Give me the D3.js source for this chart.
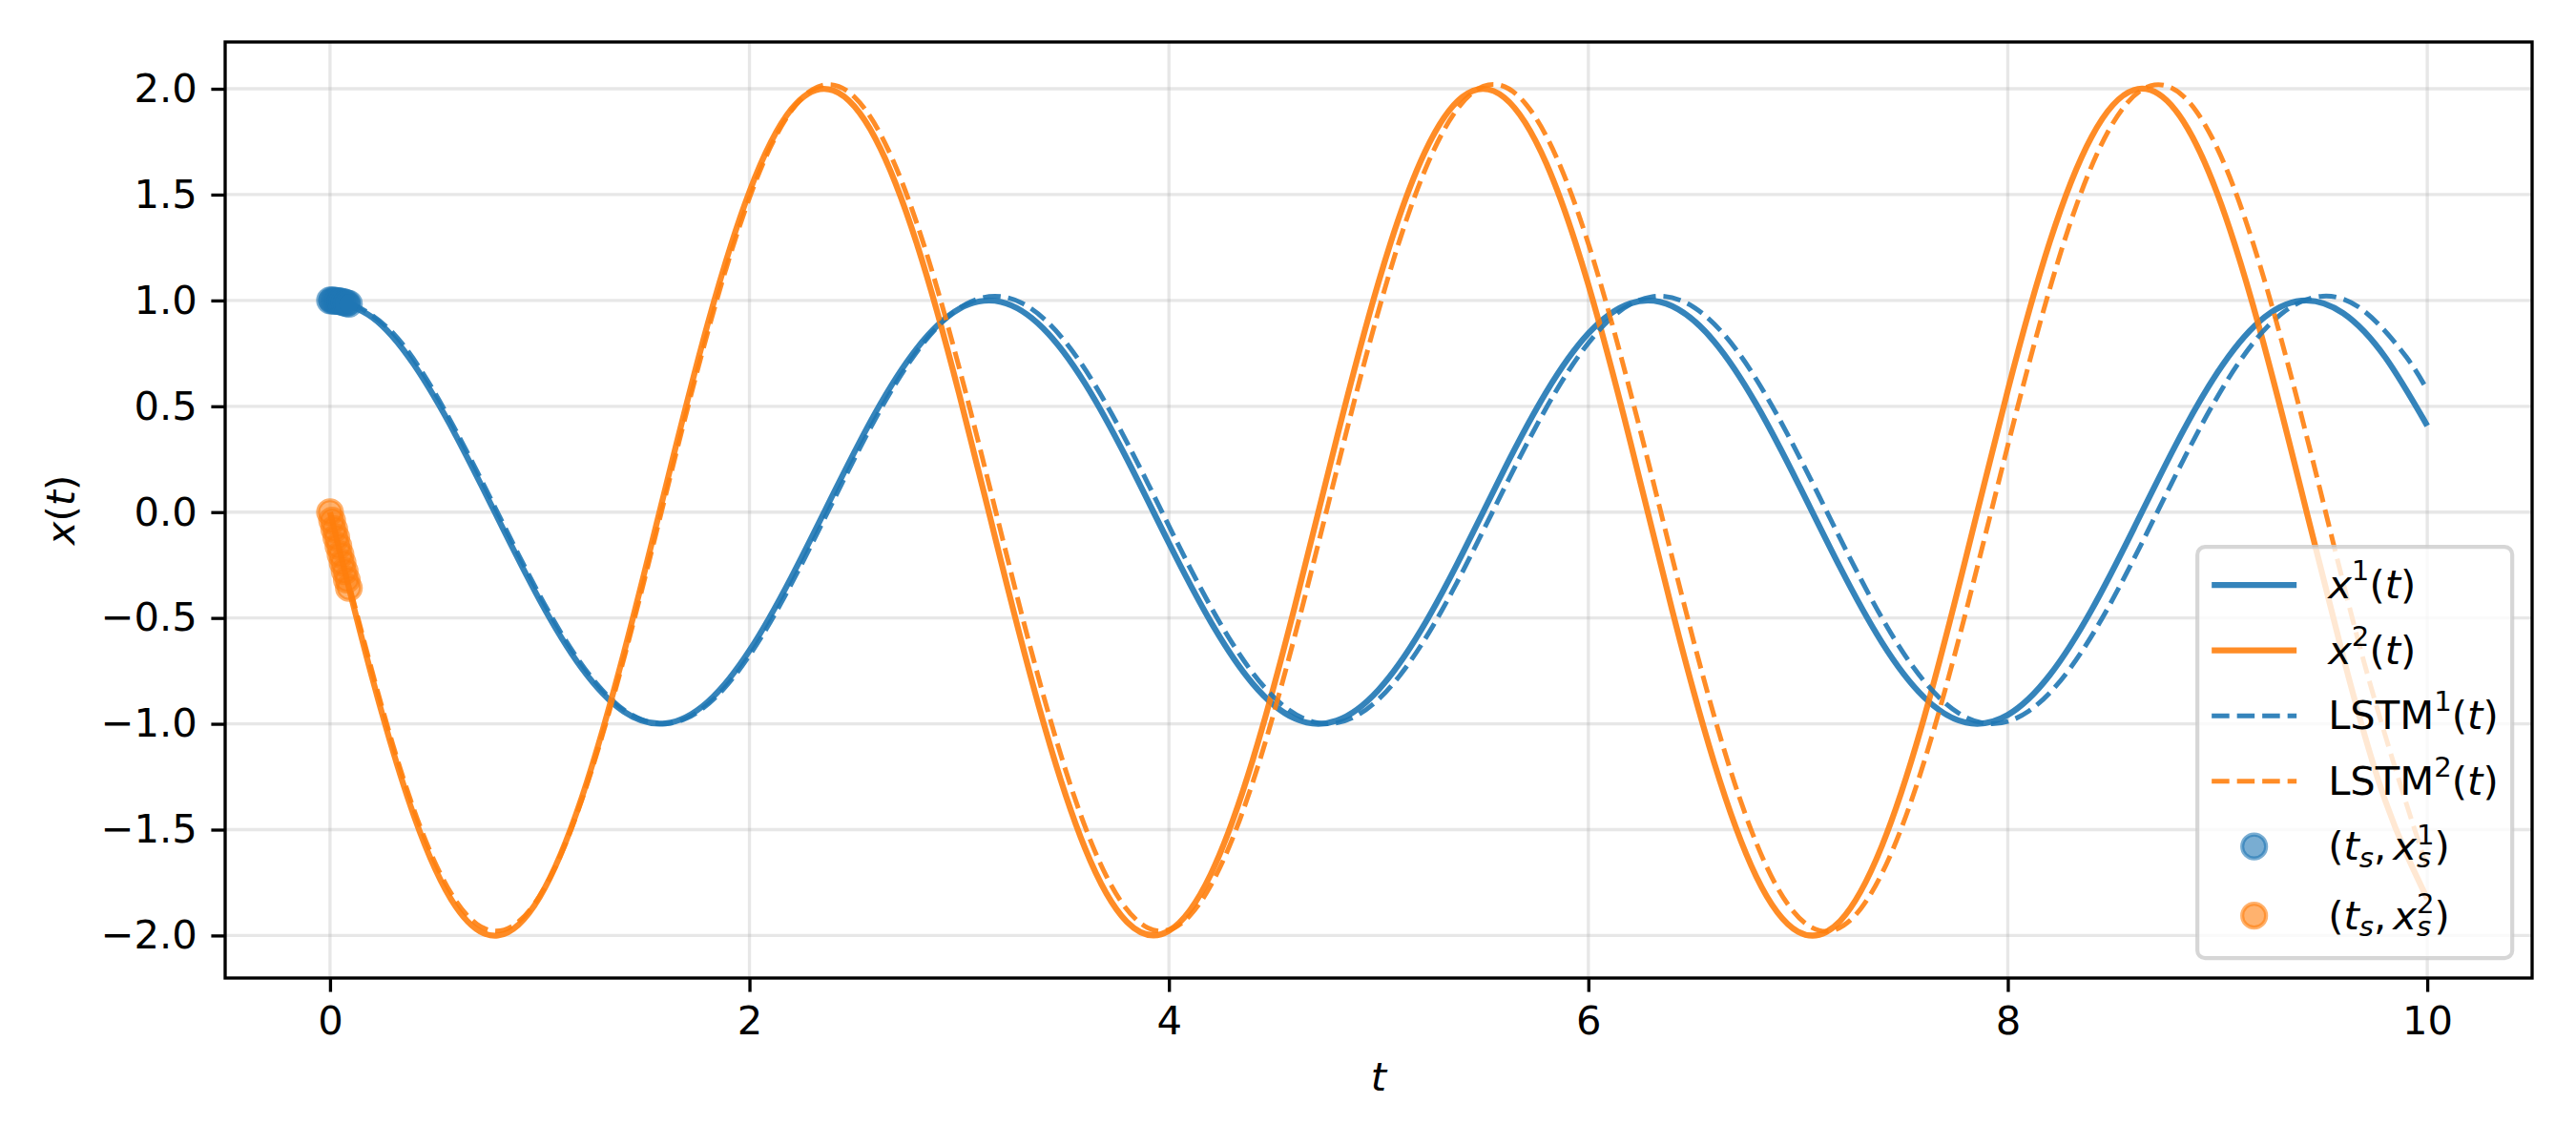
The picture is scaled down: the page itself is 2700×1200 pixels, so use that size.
<!DOCTYPE html>
<html>
<head>
<meta charset="utf-8">
<script src="https://cdn.jsdelivr.net/npm/d3@7"></script>
<style>
   html, body { margin: 0; padding: 0; background: #fff; }
   svg { display: block; font-family: 'DejaVu Sans', sans-serif; }
</style>
</head>
<body>
<div id="chart"></div>
<script>
// true trajectories, read every 0.2 along t
const tTrue = [0.0, 0.2, 0.4, 0.6, 0.8, 1.0, 1.2, 1.4, 1.6, 1.8, 2.0, 2.2, 2.4, 2.6, 2.8, 3.0, 3.2,
   3.4, 3.6, 3.8, 4.0, 4.2, 4.4, 4.6, 4.8, 5.0, 5.2, 5.4, 5.6, 5.8, 6.0, 6.2, 6.4, 6.6, 6.8, 7.0,
   7.2, 7.4, 7.6, 7.8, 8.0, 8.2, 8.4, 8.6, 8.8, 9.0, 9.2, 9.4, 9.6, 9.8, 10.0];
const x1True = [1.000, 0.921, 0.697, 0.362, -0.029, -0.416, -0.737, -0.942, -0.998, -0.897, -0.654,
   -0.307, 0.087, 0.469, 0.776, 0.960, 0.993, 0.869, 0.608, 0.251, -0.146, -0.519, -0.811, -0.975,
   -0.985, -0.839, -0.561, -0.195, 0.203, 0.568, 0.844, 0.986, 0.973, 0.806, 0.511, 0.136, -0.260,
   -0.616, -0.874, -0.994, -0.958, -0.770, -0.461, -0.079, 0.316, 0.660, 0.901, 0.999, 0.939,
   0.731, 0.408];
const x2True = [0.000, -0.778, -1.434, -1.864, -2.000, -1.818, -1.350, -0.670, 0.116, 0.886, 1.514,
   1.904, 1.992, 1.766, 1.262, 0.558, -0.234, -0.988, -1.588, -1.936, -1.978, -1.710, -1.170,
   -0.446, 0.348, 1.088, 1.656, 1.962, 1.958, 1.646, 1.074, 0.332, -0.464, -1.184, -1.720, -1.982,
   -1.932, -1.576, -0.974, -0.216, 0.576, 1.276, 1.774, 1.994, 1.898, 1.502, 0.868, 0.100, -0.686,
   -1.364, -1.826];

// LSTM prediction, starts after the sample window
const tLstm = [0.1, 0.3, 0.5, 0.7, 0.9, 1.1, 1.3, 1.5, 1.7, 1.9, 2.1, 2.3, 2.5, 2.7, 2.9, 3.1, 3.3,
   3.5, 3.7, 3.9, 4.1, 4.3, 4.5, 4.7, 4.9, 5.1, 5.3, 5.5, 5.7, 5.9, 6.1, 6.3, 6.5, 6.7, 6.9, 7.1,
   7.3, 7.5, 7.7, 7.9, 8.1, 8.3, 8.5, 8.7, 8.9, 9.1, 9.3, 9.5, 9.7, 9.9, 10.0];
const x1Lstm = [0.990, 0.846, 0.563, 0.194, -0.203, -0.568, -0.843, -0.986, -0.974, -0.809, -0.518,
   -0.145, 0.252, 0.612, 0.879, 1.010, 0.987, 0.812, 0.512, 0.135, -0.262, -0.616, -0.874, -0.994,
   -0.959, -0.773, -0.467, -0.085, 0.310, 0.659, 0.908, 1.017, 0.970, 0.774, 0.459, 0.076, -0.318,
   -0.662, -0.901, -0.999, -0.940, -0.734, -0.412, -0.025, 0.367, 0.704, 0.933, 1.020, 0.949,
   0.733, 0.575];
const x2Lstm = [-0.374, -1.100, -1.654, -1.946, -1.934, -1.620, -1.050, -0.316, 0.472, 1.188, 1.724,
   1.996, 1.962, 1.626, 1.040, 0.298, -0.490, -1.196, -1.716, -1.964, -1.906, -1.550, -0.950,
   -0.198, 0.586, 1.284, 1.784, 2.012, 1.930, 1.552, 0.936, 0.180, -0.602, -1.288, -1.772, -1.976,
   -1.872, -1.474, -0.844, -0.080, 0.698, 1.372, 1.836, 2.018, 1.892, 1.474, 0.830, 0.062, -0.714,
   -1.376, -1.680];

// observed samples (t_s, x_s)
const tSample = [0.00, 0.01, 0.02, 0.03, 0.04, 0.05, 0.06, 0.07, 0.08, 0.09];
const x1Sample = [1.000, 1.000, 0.999, 0.998, 0.997, 0.995, 0.993, 0.990, 0.987, 0.984];
const x2Sample = [0.000, -0.040, -0.080, -0.120, -0.160, -0.200, -0.239, -0.279, -0.319, -0.358];

const xTicks = [0, 2, 4, 6, 8, 10];
const yTicks = [-2.0, -1.5, -1.0, -0.5, 0.0, 0.5, 1.0, 1.5, 2.0];

const BLUE = '#1f77b4';
const ORANGE = '#ff7f0e';
const PT = 300 / 72; // figure was saved at 300 dpi
const FS = 10 * PT;

// label pieces: [text, kind] with kind r = roman, i = italic, sup / sub / supback = scripts
const legendItems = [
   { kind: 'line', color: BLUE, dash: false,
      label: [['x', 'i'], ['1', 'sup'], ['(', 'r'], ['t', 'i'], [')', 'r']] },
   { kind: 'line', color: ORANGE, dash: false,
      label: [['x', 'i'], ['2', 'sup'], ['(', 'r'], ['t', 'i'], [')', 'r']] },
   { kind: 'line', color: BLUE, dash: true,
      label: [['LSTM', 'r'], ['1', 'sup'], ['(', 'r'], ['t', 'i'], [')', 'r']] },
   { kind: 'line', color: ORANGE, dash: true,
      label: [['LSTM', 'r'], ['2', 'sup'], ['(', 'r'], ['t', 'i'], [')', 'r']] },
   { kind: 'dot', color: BLUE,
      label: [['(', 'r'], ['t', 'i'], ['s', 'sub'], [',', 'r'], ['x', 'i'], ['s', 'sub'], ['1', 'supback'], [')', 'r']] },
   { kind: 'dot', color: ORANGE,
      label: [['(', 'r'], ['t', 'i'], ['s', 'sub'], [',', 'r'], ['x', 'i'], ['s', 'sub'], ['2', 'supback'], [')', 'r']] },
];

class OdePlot {
   constructor(_config) {
      this.config = {
         parentElementSelector: _config.parentElementSelector,
         width: _config.width || 2700,
         height: _config.height || 1200,
         plot: _config.plot,
      };
      this.initVis();
   }

   initVis() {
      const { width, height, plot } = this.config;

      this.svg = d3
         .select(this.config.parentElementSelector)
         .append('svg')
         .attr('width', width)
         .attr('height', height);

      this.svg.append('rect').attr('width', width).attr('height', height).attr('fill', '#fff');

      this.xScale = d3.scaleLinear().domain([-0.5, 10.5]).range([plot.left, plot.right]);
      this.yScale = d3.scaleLinear().domain([-2.201, 2.221]).range([plot.bottom, plot.top]);

      this.drawGrid();
      this.drawSeries();
      this.drawAxes();
      this.drawLegend();
   }

   drawGrid() {
      const { plot } = this.config;
      const grid = this.svg
         .append('g')
         .attr('class', 'grid')
         .attr('stroke', '#b0b0b0')
         .attr('stroke-opacity', 0.3)
         .attr('stroke-width', 0.8 * PT);

      grid.selectAll('.gx')
         .data(xTicks)
         .join('line')
         .attr('class', 'gx')
         .attr('x1', (d) => this.xScale(d))
         .attr('x2', (d) => this.xScale(d))
         .attr('y1', plot.top)
         .attr('y2', plot.bottom);

      grid.selectAll('.gy')
         .data(yTicks)
         .join('line')
         .attr('class', 'gy')
         .attr('y1', (d) => this.yScale(d))
         .attr('y2', (d) => this.yScale(d))
         .attr('x1', plot.left)
         .attr('x2', plot.right);
   }

   drawSeries() {
      const line = d3
         .line()
         .x((d) => this.xScale(d[0]))
         .y((d) => this.yScale(d[1]))
         .curve(d3.curveNatural);

      const series = [
         { t: tTrue, v: x1True, color: BLUE, dash: false },
         { t: tTrue, v: x2True, color: ORANGE, dash: false },
         { t: tLstm, v: x1Lstm, color: BLUE, dash: true },
         { t: tLstm, v: x2Lstm, color: ORANGE, dash: true },
      ];

      this.svg
         .append('g')
         .attr('class', 'series')
         .selectAll('path')
         .data(series)
         .join('path')
         .attr('d', (s) => line(s.t.map((t, i) => [t, s.v[i]])))
         .attr('fill', 'none')
         .attr('stroke', (s) => s.color)
         .attr('stroke-opacity', 0.9)
         .attr('stroke-width', (s) => (s.dash ? 1.2 * PT : 1.5 * PT))
         .attr('stroke-dasharray', (s) => (s.dash ? `${3.7 * 1.2 * PT},${1.6 * 1.2 * PT}` : null));

      const samples = [
         ...tSample.map((t, i) => ({ t, v: x1Sample[i], color: BLUE })),
         ...tSample.map((t, i) => ({ t, v: x2Sample[i], color: ORANGE })),
      ];

      this.svg
         .append('g')
         .attr('class', 'samples')
         .selectAll('circle')
         .data(samples)
         .join('circle')
         .attr('cx', (d) => this.xScale(d.t))
         .attr('cy', (d) => this.yScale(d.v))
         .attr('r', 3 * PT)
         .attr('fill', (d) => d.color)
         .attr('fill-opacity', 0.6)
         .attr('stroke', (d) => d.color)
         .attr('stroke-opacity', 0.6)
         .attr('stroke-width', 1 * PT);
   }

   drawAxes() {
      const { plot } = this.config;
      const tick = 3.5 * PT;

      const xAxis = d3
         .axisBottom(this.xScale)
         .tickValues(xTicks)
         .tickFormat(d3.format('d'))
         .tickSize(tick)
         .tickPadding(tick);
      const yAxis = d3
         .axisLeft(this.yScale)
         .tickValues(yTicks)
         .tickFormat(d3.format('.1f'))
         .tickSize(tick)
         .tickPadding(tick);

      const xG = this.svg
         .append('g')
         .attr('class', 'axis x-axis')
         .attr('transform', `translate(0,${plot.bottom})`)
         .call(xAxis);
      const yG = this.svg
         .append('g')
         .attr('class', 'axis y-axis')
         .attr('transform', `translate(${plot.left},0)`)
         .call(yAxis);

      [xG, yG].forEach((g) => {
         g.select('.domain').remove();
         g.attr('font-size', FS).attr('font-family', "'DejaVu Sans', sans-serif");
         g.selectAll('.tick line').attr('stroke', '#000').attr('stroke-width', 0.8 * PT);
         g.selectAll('.tick text').attr('fill', '#000');
      });

      this.svg
         .append('rect')
         .attr('class', 'spines')
         .attr('x', plot.left)
         .attr('y', plot.top)
         .attr('width', plot.right - plot.left)
         .attr('height', plot.bottom - plot.top)
         .attr('fill', 'none')
         .attr('stroke', '#000')
         .attr('stroke-width', 0.8 * PT);

      this.svg
         .append('text')
         .attr('class', 'x-axis-title')
         .attr('x', (plot.left + plot.right) / 2)
         .attr('y', 1143)
         .attr('text-anchor', 'middle')
         .attr('font-size', FS)
         .attr('font-style', 'italic')
         .text('t');

      const yTitle = this.svg
         .append('text')
         .attr('class', 'y-axis-title')
         .attr('transform', `translate(78,${(plot.top + plot.bottom) / 2}) rotate(-90)`)
         .attr('text-anchor', 'middle')
         .attr('font-size', FS);
      this.mathLabel(yTitle, [['x', 'i'], ['(', 'r'], ['t', 'i'], [')', 'r']]);
   }

   mathLabel(text, parts) {
      let shift = 0;
      let prev = null;
      parts.forEach(([s, kind]) => {
         const script = kind === 'sup' || kind === 'sub' || kind === 'supback';
         let target = 0;
         if (kind === 'sup') target = -0.45 * FS;
         if (kind === 'supback') target = -0.4 * FS;
         if (kind === 'sub') target = 0.18 * FS;
         const span = text
            .append('tspan')
            .attr('dy', target - shift)
            .attr('font-size', script ? FS * 0.7 : FS)
            .attr('font-style', kind === 'i' || kind === 'sub' ? 'italic' : 'normal')
            .text(s);
         if (kind === 'supback') span.attr('dx', -0.521 * FS * 0.7);
         if (prev === ',') span.attr('dx', 0.17 * FS);
         shift = target;
         prev = s;
      });
   }

   drawLegend() {
      const { plot } = this.config;
      const pad = 0.5 * FS;
      const boxW = 330;
      const boxH = 431;
      const left = plot.right - pad - boxW;
      const top = plot.bottom - pad - boxH;

      this.legend = this.svg.append('g').attr('class', 'legend');

      this.legend
         .append('rect')
         .attr('x', left)
         .attr('y', top)
         .attr('width', boxW)
         .attr('height', boxH)
         .attr('rx', 8)
         .attr('fill', '#fff')
         .attr('fill-opacity', 0.8)
         .attr('stroke', '#cccccc')
         .attr('stroke-opacity', 0.8)
         .attr('stroke-width', 1 * PT);

      const rowY = (i) => top + 40 + i * 68.5 + (i > 4 ? 4 : 0);
      const handleX0 = left + 15;
      const handleX1 = left + 104;

      const rows = this.legend
         .selectAll('.legend-row')
         .data(legendItems)
         .join('g')
         .attr('class', 'legend-row')
         .attr('transform', (d, i) => `translate(0,${rowY(i)})`);

      rows.filter((d) => d.kind === 'line')
         .append('line')
         .attr('x1', handleX0)
         .attr('x2', handleX1)
         .attr('stroke', (d) => d.color)
         .attr('stroke-opacity', 0.9)
         .attr('stroke-width', (d) => (d.dash ? 1.2 * PT : 1.5 * PT))
         .attr('stroke-dasharray', (d) => (d.dash ? `${3.7 * 1.2 * PT},${1.6 * 1.2 * PT}` : null));

      rows.filter((d) => d.kind === 'dot')
         .append('circle')
         .attr('cx', (handleX0 + handleX1) / 2)
         .attr('r', 3 * PT)
         .attr('fill', (d) => d.color)
         .attr('fill-opacity', 0.6)
         .attr('stroke', (d) => d.color)
         .attr('stroke-opacity', 0.6)
         .attr('stroke-width', 1 * PT);

      const self = this;
      rows.append('text')
         .attr('x', left + 137)
         .attr('y', 14)
         .attr('font-size', FS)
         .each(function (d) {
            self.mathLabel(d3.select(this), d.label);
         });
   }
}

new OdePlot({
   parentElementSelector: '#chart',
   width: 2700,
   height: 1200,
   plot: { left: 236, right: 2654, top: 44, bottom: 1025 },
});
</script>
</body>
</html>
